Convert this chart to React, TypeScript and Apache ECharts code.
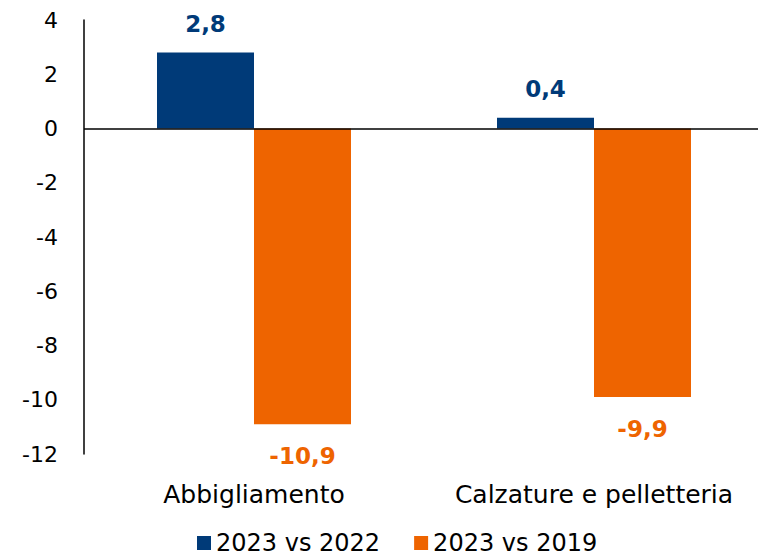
import React, { useEffect, useRef } from "react";
import * as echarts from "echarts";

const categories = ["Abbigliamento", "Calzature e pelletteria"];
const series2022 = [2.8, 0.4];
const series2019 = [-10.9, -9.9];
const seriesNames = ["2023 vs 2022", "2023 vs 2019"];
const yTicks = { min: -12, max: 4, interval: 2 };

const BLUE = "#003A78";
const ORANGE = "#EE6400";
const FONT = "DejaVu Sans";

const fmt = (p: any) => String(p.value).replace(".", ",");

export default function App() {
  const ref = useRef<HTMLDivElement>(null);
  useEffect(() => {
    if (!ref.current) return;
    const chart = echarts.init(ref.current, undefined, { renderer: "svg" });
    chart.setOption({
      animation: false,
      textStyle: { fontFamily: FONT },
      grid: {
        left: 84,
        width: 680,
        top: 20,
        bottom: 106,
        containLabel: false,
        outerBoundsMode: "none",
      },
      legend: {
        top: 530,
        left: 197,
        itemWidth: 14,
        itemHeight: 14,
        itemGap: 34,
        icon: "rect",
        padding: 0,
        textStyle: { fontFamily: FONT, fontSize: 24, lineHeight: 26, color: "#000" },
        data: seriesNames,
      },
      xAxis: {
        type: "category",
        data: categories,
        axisLine: { show: false },
        axisTick: { show: false },
        axisLabel: {
          interval: 0,
          hideOverlap: false,
          margin: 28,
          fontSize: 25,
          color: "#000",
          fontFamily: FONT,
        },
      },
      yAxis: {
        type: "value",
        min: yTicks.min,
        max: yTicks.max,
        interval: yTicks.interval,
        axisLine: { show: true, lineStyle: { color: "#000", width: 1.5 } },
        axisTick: { show: false },
        splitLine: { show: false },
        axisLabel: { margin: 26, fontSize: 22, color: "#000", fontFamily: FONT },
      },
      series: [
        {
          name: seriesNames[0],
          type: "bar",
          data: series2022,
          barWidth: 97,
          barGap: "0%",
          itemStyle: { color: BLUE },
          label: {
            show: true,
            position: "top",
            distance: 17,
            formatter: fmt,
            color: BLUE,
            fontWeight: "bold",
            fontSize: 23,
            fontFamily: FONT,
          },
          markLine: {
            silent: true,
            symbol: "none",
            label: { show: false },
            lineStyle: { color: "#000", width: 1.5, type: "solid" },
            data: [{ yAxis: 0 }],
          },
        },
        {
          name: seriesNames[1],
          type: "bar",
          data: series2019,
          barWidth: 97,
          barGap: "0%",
          itemStyle: { color: ORANGE },
          label: {
            show: true,
            position: "bottom",
            distance: 20,
            formatter: fmt,
            color: ORANGE,
            fontWeight: "bold",
            fontSize: 23,
            fontFamily: FONT,
          },
        },
      ],
    });
    return () => chart.dispose();
  }, []);
  return <div ref={ref} style={{ width: 758, height: 560, position: "absolute", left: 0, top: 0 }} />;
}
